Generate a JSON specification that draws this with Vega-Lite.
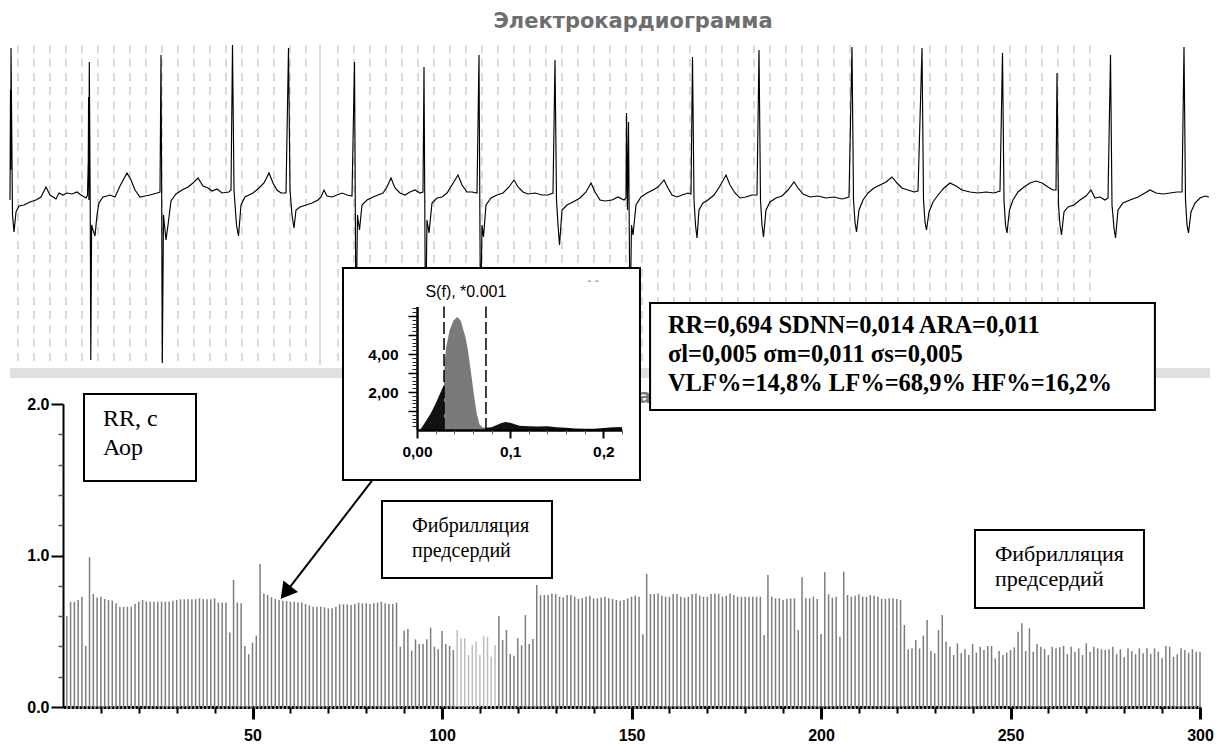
{
"$schema": "https://vega.github.io/schema/vega-lite/v6.json",
"width": 1223, "height": 744, "autosize": "none", "padding": 0,
"background": "white",
"config": {"view": {"stroke": null}},
"datasets": {
"bars": [
{"beat":1,"rr":0.60},{"beat":2,"rr":0.695},{"beat":3,"rr":0.695},{"beat":4,"rr":0.706},{"beat":5,"rr":0.728},{"beat":6,"rr":0.403},{"beat":7,"rr":0.988},{"beat":8,"rr":0.746},{"beat":9,"rr":0.722},{"beat":10,"rr":0.728},
{"beat":11,"rr":0.713},{"beat":12,"rr":0.706},{"beat":13,"rr":0.702},{"beat":14,"rr":0.684},{"beat":15,"rr":0.662},{"beat":16,"rr":0.662},{"beat":17,"rr":0.662},{"beat":18,"rr":0.662},{"beat":19,"rr":0.68},{"beat":20,"rr":0.695},
{"beat":21,"rr":0.706},{"beat":22,"rr":0.695},{"beat":23,"rr":0.695},{"beat":24,"rr":0.695},{"beat":25,"rr":0.695},{"beat":26,"rr":0.695},{"beat":27,"rr":0.695},{"beat":28,"rr":0.695},{"beat":29,"rr":0.702},{"beat":30,"rr":0.706},
{"beat":31,"rr":0.711},{"beat":32,"rr":0.711},{"beat":33,"rr":0.711},{"beat":34,"rr":0.711},{"beat":35,"rr":0.711},{"beat":36,"rr":0.717},{"beat":37,"rr":0.713},{"beat":38,"rr":0.711},{"beat":39,"rr":0.711},{"beat":40,"rr":0.717},
{"beat":41,"rr":0.689},{"beat":42,"rr":0.689},{"beat":43,"rr":0.689},{"beat":44,"rr":0.491},{"beat":45,"rr":0.838},{"beat":46,"rr":0.689},{"beat":47,"rr":0.684},{"beat":48,"rr":0.403},{"beat":49,"rr":0.348},{"beat":50,"rr":0.425},
{"beat":51,"rr":0.471},{"beat":52,"rr":0.944},{"beat":53,"rr":0.75},{"beat":54,"rr":0.739},{"beat":55,"rr":0.724},{"beat":56,"rr":0.713},{"beat":57,"rr":0.706},{"beat":58,"rr":0.702},{"beat":59,"rr":0.70},{"beat":60,"rr":0.695},
{"beat":61,"rr":0.695},{"beat":62,"rr":0.691},{"beat":63,"rr":0.689},{"beat":64,"rr":0.68},{"beat":65,"rr":0.671},{"beat":66,"rr":0.662},{"beat":67,"rr":0.662},{"beat":68,"rr":0.662},{"beat":69,"rr":0.658},{"beat":70,"rr":0.651},
{"beat":71,"rr":0.651},{"beat":72,"rr":0.662},{"beat":73,"rr":0.678},{"beat":74,"rr":0.678},{"beat":75,"rr":0.678},{"beat":76,"rr":0.673},{"beat":77,"rr":0.68},{"beat":78,"rr":0.689},{"beat":79,"rr":0.684},{"beat":80,"rr":0.684},
{"beat":81,"rr":0.68},{"beat":82,"rr":0.684},{"beat":83,"rr":0.689},{"beat":84,"rr":0.695},{"beat":85,"rr":0.684},{"beat":86,"rr":0.68},{"beat":87,"rr":0.68},{"beat":88,"rr":0.689},{"beat":89,"rr":0.398},{"beat":90,"rr":0.504},
{"beat":91,"rr":0.515},{"beat":92,"rr":0.372},{"beat":93,"rr":0.447},{"beat":94,"rr":0.416},{"beat":95,"rr":0.416},{"beat":96,"rr":0.447},{"beat":97,"rr":0.524},{"beat":98,"rr":0.398},{"beat":99,"rr":0.381},{"beat":100,"rr":0.502},
{"beat":101,"rr":0.416},{"beat":102,"rr":0.403},{"beat":103,"rr":0.376},{"beat":104,"rr":0.508},{"beat":105,"rr":0.453},{"beat":106,"rr":0.453},{"beat":107,"rr":0.343},{"beat":108,"rr":0.409},{"beat":109,"rr":0.431},{"beat":110,"rr":0.343},
{"beat":111,"rr":0.469},{"beat":112,"rr":0.464},{"beat":113,"rr":0.332},{"beat":114,"rr":0.409},{"beat":115,"rr":0.601},{"beat":116,"rr":0.442},{"beat":117,"rr":0.508},{"beat":118,"rr":0.35},{"beat":119,"rr":0.339},{"beat":120,"rr":0.453},
{"beat":121,"rr":0.407},{"beat":122,"rr":0.607},{"beat":123,"rr":0.416},{"beat":124,"rr":0.449},{"beat":125,"rr":0.805},{"beat":126,"rr":0.739},{"beat":127,"rr":0.739},{"beat":128,"rr":0.739},{"beat":129,"rr":0.75},{"beat":130,"rr":0.746},
{"beat":131,"rr":0.728},{"beat":132,"rr":0.724},{"beat":133,"rr":0.739},{"beat":134,"rr":0.739},{"beat":135,"rr":0.728},{"beat":136,"rr":0.713},{"beat":137,"rr":0.717},{"beat":138,"rr":0.728},{"beat":139,"rr":0.735},{"beat":140,"rr":0.717},
{"beat":141,"rr":0.717},{"beat":142,"rr":0.722},{"beat":143,"rr":0.728},{"beat":144,"rr":0.717},{"beat":145,"rr":0.713},{"beat":146,"rr":0.706},{"beat":147,"rr":0.702},{"beat":148,"rr":0.706},{"beat":149,"rr":0.717},{"beat":150,"rr":0.728},
{"beat":151,"rr":0.735},{"beat":152,"rr":0.728},{"beat":153,"rr":0.48},{"beat":154,"rr":0.878},{"beat":155,"rr":0.746},{"beat":156,"rr":0.746},{"beat":157,"rr":0.75},{"beat":158,"rr":0.735},{"beat":159,"rr":0.728},{"beat":160,"rr":0.728},
{"beat":161,"rr":0.746},{"beat":162,"rr":0.746},{"beat":163,"rr":0.728},{"beat":164,"rr":0.722},{"beat":165,"rr":0.728},{"beat":166,"rr":0.746},{"beat":167,"rr":0.75},{"beat":168,"rr":0.735},{"beat":169,"rr":0.728},{"beat":170,"rr":0.728},
{"beat":171,"rr":0.746},{"beat":172,"rr":0.75},{"beat":173,"rr":0.746},{"beat":174,"rr":0.728},{"beat":175,"rr":0.735},{"beat":176,"rr":0.75},{"beat":177,"rr":0.739},{"beat":178,"rr":0.728},{"beat":179,"rr":0.728},{"beat":180,"rr":0.728},
{"beat":181,"rr":0.728},{"beat":182,"rr":0.728},{"beat":183,"rr":0.728},{"beat":184,"rr":0.728},{"beat":185,"rr":0.475},{"beat":186,"rr":0.871},{"beat":187,"rr":0.728},{"beat":188,"rr":0.717},{"beat":189,"rr":0.717},{"beat":190,"rr":0.706},
{"beat":191,"rr":0.713},{"beat":192,"rr":0.717},{"beat":193,"rr":0.717},{"beat":194,"rr":0.508},{"beat":195,"rr":0.856},{"beat":196,"rr":0.717},{"beat":197,"rr":0.717},{"beat":198,"rr":0.728},{"beat":199,"rr":0.713},{"beat":200,"rr":0.482},
{"beat":201,"rr":0.889},{"beat":202,"rr":0.744},{"beat":203,"rr":0.722},{"beat":204,"rr":0.728},{"beat":205,"rr":0.464},{"beat":206,"rr":0.893},{"beat":207,"rr":0.739},{"beat":208,"rr":0.728},{"beat":209,"rr":0.735},{"beat":210,"rr":0.744},
{"beat":211,"rr":0.728},{"beat":212,"rr":0.728},{"beat":213,"rr":0.739},{"beat":214,"rr":0.735},{"beat":215,"rr":0.728},{"beat":216,"rr":0.713},{"beat":217,"rr":0.713},{"beat":218,"rr":0.717},{"beat":219,"rr":0.717},{"beat":220,"rr":0.713},
{"beat":221,"rr":0.706},{"beat":222,"rr":0.541},{"beat":223,"rr":0.381},{"beat":224,"rr":0.387},{"beat":225,"rr":0.442},{"beat":226,"rr":0.387},{"beat":227,"rr":0.471},{"beat":228,"rr":0.574},{"beat":229,"rr":0.37},{"beat":230,"rr":0.354},
{"beat":231,"rr":0.508},{"beat":232,"rr":0.607},{"beat":233,"rr":0.431},{"beat":234,"rr":0.398},{"beat":235,"rr":0.343},{"beat":236,"rr":0.42},{"beat":237,"rr":0.354},{"beat":238,"rr":0.381},{"beat":239,"rr":0.343},{"beat":240,"rr":0.416},
{"beat":241,"rr":0.359},{"beat":242,"rr":0.398},{"beat":243,"rr":0.376},{"beat":244,"rr":0.403},{"beat":245,"rr":0.403},{"beat":246,"rr":0.321},{"beat":247,"rr":0.37},{"beat":248,"rr":0.343},{"beat":249,"rr":0.359},{"beat":250,"rr":0.376},
{"beat":251,"rr":0.394},{"beat":252,"rr":0.497},{"beat":253,"rr":0.552},{"beat":254,"rr":0.37},{"beat":255,"rr":0.519},{"beat":256,"rr":0.365},{"beat":257,"rr":0.414},{"beat":258,"rr":0.398},{"beat":259,"rr":0.383},{"beat":260,"rr":0.343},
{"beat":261,"rr":0.398},{"beat":262,"rr":0.387},{"beat":263,"rr":0.394},{"beat":264,"rr":0.403},{"beat":265,"rr":0.348},{"beat":266,"rr":0.398},{"beat":267,"rr":0.365},{"beat":268,"rr":0.387},{"beat":269,"rr":0.343},{"beat":270,"rr":0.42},
{"beat":271,"rr":0.365},{"beat":272,"rr":0.398},{"beat":273,"rr":0.387},{"beat":274,"rr":0.381},{"beat":275,"rr":0.376},{"beat":276,"rr":0.381},{"beat":277,"rr":0.398},{"beat":278,"rr":0.348},{"beat":279,"rr":0.381},{"beat":280,"rr":0.328},
{"beat":281,"rr":0.387},{"beat":282,"rr":0.37},{"beat":283,"rr":0.348},{"beat":284,"rr":0.387},{"beat":285,"rr":0.354},{"beat":286,"rr":0.387},{"beat":287,"rr":0.35},{"beat":288,"rr":0.387},{"beat":289,"rr":0.365},{"beat":290,"rr":0.321},
{"beat":291,"rr":0.403},{"beat":292,"rr":0.398},{"beat":293,"rr":0.332},{"beat":294,"rr":0.348},{"beat":295,"rr":0.387},{"beat":296,"rr":0.376},{"beat":297,"rr":0.359},{"beat":298,"rr":0.381},{"beat":299,"rr":0.365},{"beat":300,"rr":0.365}
],
"ecg": [
{"t":0.000,"v":0.00},{"t":0.005,"v":1.10},{"t":0.008,"v":0.30},{"t":0.010,"v":1.52},{"t":0.025,"v":-0.15},{"t":0.040,"v":-0.32},{"t":0.060,"v":-0.12},{"t":0.090,"v":-0.06},{"t":0.140,"v":-0.05},{"t":0.200,"v":-0.02},{"t":0.260,"v":0.00},{"t":0.310,"v":0.03},{"t":0.360,"v":0.13},{"t":0.400,"v":0.05},{"t":0.430,"v":0.03},{"t":0.460,"v":0.01},{"t":0.490,"v":0.07},{"t":0.530,"v":0.05},{"t":0.570,"v":0.07},{"t":0.620,"v":0.06},{"t":0.670,"v":0.08},{"t":0.710,"v":0.05},{"t":0.760,"v":0.02},{"t":0.775,"v":0.05},
{"t":0.783,"v":0.40},{"t":0.786,"v":1.03},{"t":0.789,"v":0.00},{"t":0.793,"v":1.38},{"t":0.802,"v":0.00},{"t":0.808,"v":-1.60},{"t":0.816,"v":-0.25},{"t":0.830,"v":-0.30},{"t":0.850,"v":-0.36},{"t":0.870,"v":-0.15},{"t":0.890,"v":-0.03},{"t":0.930,"v":0.03},{"t":0.970,"v":0.04},{"t":1.000,"v":0.05},{"t":1.050,"v":0.03},{"t":1.100,"v":0.14},{"t":1.170,"v":0.27},{"t":1.210,"v":0.20},{"t":1.250,"v":0.10},{"t":1.300,"v":0.03},{"t":1.350,"v":0.04},{"t":1.400,"v":0.05},{"t":1.470,"v":0.07},{"t":1.500,"v":0.08},
{"t":1.510,"v":1.45},{"t":1.517,"v":0.00},{"t":1.523,"v":-1.63},{"t":1.535,"v":-0.15},{"t":1.560,"v":-0.40},{"t":1.580,"v":-0.25},{"t":1.610,"v":-0.01},{"t":1.660,"v":0.06},{"t":1.720,"v":0.10},{"t":1.780,"v":0.13},{"t":1.830,"v":0.17},{"t":1.880,"v":0.22},{"t":1.930,"v":0.14},{"t":1.980,"v":0.12},{"t":2.020,"v":0.09},{"t":2.070,"v":0.11},{"t":2.120,"v":0.07},{"t":2.190,"v":0.08},{"t":2.210,"v":0.10},
{"t":2.225,"v":1.55},{"t":2.240,"v":0.10},{"t":2.265,"v":-0.25},{"t":2.285,"v":-0.36},{"t":2.310,"v":-0.05},{"t":2.350,"v":0.03},{"t":2.430,"v":0.07},{"t":2.490,"v":0.12},{"t":2.540,"v":0.17},{"t":2.590,"v":0.27},{"t":2.630,"v":0.17},{"t":2.670,"v":0.10},{"t":2.710,"v":0.07},{"t":2.760,"v":0.07},
{"t":2.785,"v":1.52},{"t":2.800,"v":0.10},{"t":2.820,"v":-0.15},{"t":2.840,"v":-0.28},{"t":2.860,"v":-0.10},{"t":2.900,"v":-0.07},{"t":2.960,"v":-0.05},{"t":3.020,"v":-0.03},{"t":3.080,"v":0.00},{"t":3.110,"v":0.03},{"t":3.140,"v":0.10},{"t":3.170,"v":0.04},{"t":3.220,"v":0.03},{"t":3.270,"v":0.05},{"t":3.320,"v":0.07},{"t":3.370,"v":0.05},{"t":3.420,"v":0.04},
{"t":3.445,"v":1.38},{"t":3.460,"v":-1.30},{"t":3.475,"v":-0.15},{"t":3.495,"v":-0.30},{"t":3.520,"v":-0.05},{"t":3.570,"v":0.00},{"t":3.630,"v":0.03},{"t":3.680,"v":0.05},{"t":3.730,"v":0.07},{"t":3.770,"v":0.13},{"t":3.810,"v":0.22},{"t":3.850,"v":0.12},{"t":3.900,"v":0.07},{"t":3.950,"v":0.05},{"t":4.000,"v":0.08},{"t":4.050,"v":0.10},{"t":4.100,"v":0.07},{"t":4.130,"v":0.08},
{"t":4.140,"v":1.33},{"t":4.155,"v":-1.30},{"t":4.170,"v":-0.20},{"t":4.190,"v":-0.33},{"t":4.220,"v":-0.03},{"t":4.270,"v":0.02},{"t":4.320,"v":0.03},{"t":4.370,"v":0.07},{"t":4.420,"v":0.15},{"t":4.480,"v":0.25},{"t":4.520,"v":0.15},{"t":4.570,"v":0.08},{"t":4.620,"v":0.08},{"t":4.670,"v":0.07},
{"t":4.690,"v":1.45},{"t":4.705,"v":-1.30},{"t":4.720,"v":-0.25},{"t":4.735,"v":-0.37},{"t":4.760,"v":-0.05},{"t":4.810,"v":0.02},{"t":4.870,"v":0.05},{"t":4.930,"v":0.07},{"t":4.990,"v":0.13},{"t":5.040,"v":0.20},{"t":5.080,"v":0.13},{"t":5.130,"v":0.08},{"t":5.180,"v":0.06},{"t":5.250,"v":0.07},{"t":5.320,"v":0.05},{"t":5.380,"v":0.05},{"t":5.430,"v":0.07},
{"t":5.450,"v":1.40},{"t":5.465,"v":0.00},{"t":5.480,"v":-0.25},{"t":5.495,"v":-0.45},{"t":5.520,"v":-0.10},{"t":5.570,"v":-0.05},{"t":5.630,"v":-0.02},{"t":5.700,"v":0.02},{"t":5.760,"v":0.08},{"t":5.810,"v":0.17},{"t":5.850,"v":0.08},{"t":5.900,"v":0.00},{"t":5.950,"v":-0.01},{"t":6.020,"v":0.00},{"t":6.080,"v":0.03},{"t":6.140,"v":0.00},{"t":6.160,"v":0.02},
{"t":6.165,"v":0.87},{"t":6.175,"v":-0.10},{"t":6.185,"v":0.78},{"t":6.200,"v":-1.30},{"t":6.215,"v":-0.25},{"t":6.230,"v":-0.35},{"t":6.260,"v":-0.05},{"t":6.310,"v":0.03},{"t":6.370,"v":0.07},{"t":6.430,"v":0.10},{"t":6.480,"v":0.13},{"t":6.540,"v":0.20},{"t":6.580,"v":0.12},{"t":6.620,"v":0.05},{"t":6.670,"v":0.03},{"t":6.720,"v":0.05},{"t":6.780,"v":0.07},{"t":6.810,"v":0.06},
{"t":6.825,"v":1.43},{"t":6.840,"v":0.00},{"t":6.855,"v":-0.25},{"t":6.870,"v":-0.38},{"t":6.890,"v":-0.10},{"t":6.930,"v":-0.03},{"t":6.980,"v":0.00},{"t":7.040,"v":0.05},{"t":7.100,"v":0.14},{"t":7.160,"v":0.25},{"t":7.200,"v":0.15},{"t":7.250,"v":0.07},{"t":7.300,"v":0.02},{"t":7.360,"v":0.03},{"t":7.420,"v":0.05},{"t":7.470,"v":0.05},
{"t":7.490,"v":1.50},{"t":7.505,"v":0.00},{"t":7.520,"v":-0.25},{"t":7.535,"v":-0.37},{"t":7.560,"v":-0.10},{"t":7.600,"v":-0.02},{"t":7.660,"v":0.02},{"t":7.720,"v":0.04},{"t":7.780,"v":0.10},{"t":7.840,"v":0.18},{"t":7.880,"v":0.12},{"t":7.930,"v":0.06},{"t":8.000,"v":0.03},{"t":8.080,"v":0.04},{"t":8.160,"v":0.02},{"t":8.240,"v":0.03},{"t":8.320,"v":0.01},{"t":8.390,"v":0.03},
{"t":8.420,"v":1.53},{"t":8.435,"v":0.00},{"t":8.450,"v":-0.22},{"t":8.465,"v":-0.32},{"t":8.490,"v":-0.10},{"t":8.530,"v":0.00},{"t":8.580,"v":0.07},{"t":8.640,"v":0.12},{"t":8.700,"v":0.15},{"t":8.760,"v":0.18},{"t":8.820,"v":0.23},{"t":8.870,"v":0.17},{"t":8.920,"v":0.12},{"t":8.980,"v":0.10},{"t":9.040,"v":0.08},{"t":9.080,"v":0.09},
{"t":9.120,"v":1.52},{"t":9.135,"v":0.00},{"t":9.150,"v":-0.22},{"t":9.165,"v":-0.30},{"t":9.190,"v":-0.12},{"t":9.230,"v":-0.02},{"t":9.280,"v":0.05},{"t":9.340,"v":0.12},{"t":9.400,"v":0.17},{"t":9.460,"v":0.14},{"t":9.520,"v":0.10},{"t":9.600,"v":0.08},{"t":9.680,"v":0.07},{"t":9.760,"v":0.08},{"t":9.840,"v":0.07},{"t":9.900,"v":0.09},
{"t":9.925,"v":1.47},{"t":9.940,"v":0.00},{"t":9.955,"v":-0.25},{"t":9.970,"v":-0.33},{"t":9.995,"v":-0.10},{"t":10.030,"v":0.00},{"t":10.080,"v":0.08},{"t":10.140,"v":0.13},{"t":10.200,"v":0.17},{"t":10.260,"v":0.19},{"t":10.320,"v":0.17},{"t":10.380,"v":0.13},{"t":10.430,"v":0.10},{"t":10.460,"v":0.10},
{"t":10.470,"v":1.27},{"t":10.485,"v":-0.05},{"t":10.500,"v":-0.25},{"t":10.515,"v":-0.35},{"t":10.540,"v":-0.12},{"t":10.580,"v":-0.07},{"t":10.640,"v":-0.05},{"t":10.700,"v":0.00},{"t":10.760,"v":0.04},{"t":10.810,"v":0.10},{"t":10.850,"v":0.02},{"t":10.900,"v":0.03},{"t":10.950,"v":0.00},{"t":10.980,"v":0.02},
{"t":11.005,"v":1.45},{"t":11.020,"v":-0.05},{"t":11.040,"v":-0.28},{"t":11.055,"v":-0.38},{"t":11.080,"v":-0.10},{"t":11.130,"v":-0.03},{"t":11.200,"v":0.00},{"t":11.280,"v":0.03},{"t":11.350,"v":0.07},{"t":11.400,"v":0.10},{"t":11.460,"v":0.07},{"t":11.530,"v":0.06},{"t":11.600,"v":0.07},{"t":11.670,"v":0.08},{"t":11.720,"v":0.08},
{"t":11.740,"v":1.53},{"t":11.755,"v":0.00},{"t":11.770,"v":-0.25},{"t":11.785,"v":-0.33},{"t":11.810,"v":-0.12},{"t":11.850,"v":-0.03},{"t":11.900,"v":0.02},{"t":11.950,"v":0.04},{"t":11.990,"v":0.03}
],
"grid": [
{"t":0.08},{"t":0.24},{"t":0.40},{"t":0.56},{"t":0.72},{"t":0.88},{"t":1.04},{"t":1.20},{"t":1.36},{"t":1.52},{"t":1.68},{"t":1.84},{"t":2.00},{"t":2.16},{"t":2.32},{"t":2.48},{"t":2.64},{"t":2.80},{"t":2.96},{"t":3.28},{"t":3.44},{"t":3.60},{"t":3.76},{"t":3.92},{"t":4.08},{"t":4.24},{"t":4.40},{"t":4.56},{"t":4.72},{"t":4.88},{"t":5.04},{"t":5.20},{"t":5.36},{"t":5.52},{"t":5.68},{"t":5.84},{"t":6.00},{"t":6.16},{"t":6.32},{"t":6.48},{"t":6.64},{"t":6.80},{"t":6.96},{"t":7.12},{"t":7.28},{"t":7.44},{"t":7.60},{"t":7.76},{"t":7.92},{"t":8.08},{"t":8.24},{"t":8.40},{"t":8.56},{"t":8.72},{"t":8.88},{"t":9.04},{"t":9.20},{"t":9.36},{"t":9.52},{"t":9.68},{"t":9.84},{"t":10.00},{"t":10.16},{"t":10.32},{"t":10.48},{"t":10.64},{"t":10.80}
],
"gridMajor": [{"t":3.10}],
"spectrum": [
{"band":"VLF","f":0.003,"p":0},{"band":"VLF","f":0.006,"p":0.2},{"band":"VLF","f":0.010,"p":0.5},{"band":"VLF","f":0.015,"p":0.9},{"band":"VLF","f":0.020,"p":1.4},{"band":"VLF","f":0.025,"p":1.95},{"band":"VLF","f":0.029,"p":2.4},
{"band":"LF","f":0.029,"p":2.4},{"band":"LF","f":0.0295,"p":3.6},{"band":"LF","f":0.0315,"p":4.4},{"band":"LF","f":0.035,"p":5.25},{"band":"LF","f":0.039,"p":5.75},{"band":"LF","f":0.0433,"p":5.95},{"band":"LF","f":0.047,"p":5.75},{"band":"LF","f":0.049,"p":5.4},{"band":"LF","f":0.052,"p":4.9},{"band":"LF","f":0.0547,"p":4.2},{"band":"LF","f":0.058,"p":3.0},{"band":"LF","f":0.061,"p":1.9},{"band":"LF","f":0.064,"p":0.9},{"band":"LF","f":0.067,"p":0.3},{"band":"LF","f":0.070,"p":0.15},{"band":"LF","f":0.074,"p":0.12},
{"band":"HF","f":0.074,"p":0.12},{"band":"HF","f":0.080,"p":0.15},{"band":"HF","f":0.085,"p":0.25},{"band":"HF","f":0.090,"p":0.35},{"band":"HF","f":0.095,"p":0.42},{"band":"HF","f":0.100,"p":0.38},{"band":"HF","f":0.105,"p":0.30},{"band":"HF","f":0.110,"p":0.22},{"band":"HF","f":0.120,"p":0.20},{"band":"HF","f":0.130,"p":0.18},{"band":"HF","f":0.140,"p":0.20},{"band":"HF","f":0.150,"p":0.15},{"band":"HF","f":0.160,"p":0.12},{"band":"HF","f":0.170,"p":0.08},{"band":"HF","f":0.180,"p":0.06},{"band":"HF","f":0.190,"p":0.07},{"band":"HF","f":0.200,"p":0.10},{"band":"HF","f":0.210,"p":0.14},{"band":"HF","f":0.220,"p":0.16}
]
},
"layer": [
{"data":{"name":"grid"},"mark":{"type":"rule","stroke":"#b3b3b3","strokeWidth":1,"strokeDash":[8,6]},
 "encoding":{"x":{"field":"t","type":"quantitative","scale":{"domain":[0,12],"range":[10,1210],"nice":false,"zero":false},"axis":null},
  "y":{"datum":1.55,"type":"quantitative","scale":{"domain":[-1.7,1.6],"range":[370,40],"nice":false,"zero":false},"axis":null},"y2":{"datum":-1.65}}},
{"data":{"name":"gridMajor"},"mark":{"type":"rule","stroke":"#b8b8b8","strokeWidth":1},
 "encoding":{"x":{"field":"t","type":"quantitative","scale":{"domain":[0,12],"range":[10,1210],"nice":false,"zero":false},"axis":null},
  "y":{"datum":1.55,"type":"quantitative","scale":{"domain":[-1.7,1.6],"range":[370,40],"nice":false,"zero":false},"axis":null},"y2":{"datum":-1.65}}},
{"data":{"values":[{}]},"mark":{"type":"rect","fill":"#e0e0e0"},
 "encoding":{"x":{"datum":0,"type":"quantitative","scale":{"domain":[0,12],"range":[10,1210],"nice":false,"zero":false},"axis":null},"x2":{"datum":12},
  "y":{"datum":-1.68,"type":"quantitative","scale":{"domain":[-1.7,1.6],"range":[370,40],"nice":false,"zero":false},"axis":null},"y2":{"datum":-1.78}}},
{"data":{"name":"ecg"},"mark":{"type":"line","stroke":"black","strokeWidth":1.15,"interpolate":"linear"},
 "encoding":{"x":{"field":"t","type":"quantitative","scale":{"domain":[0,12],"range":[10,1210],"nice":false,"zero":false},"axis":null},
  "y":{"field":"v","type":"quantitative","scale":{"domain":[-1.7,1.6],"range":[370,40],"nice":false,"zero":false},"axis":null}}},
{"data":{"values":[{"t":6.23,"v":1.78,"label":"Электрокардиограмма"}]},"mark":{"type":"text","font":"DejaVu Sans","fontWeight":"bold","fontSize":21,"fill":"#6e6e6e","align":"center","baseline":"middle"},
 "encoding":{"x":{"field":"t","type":"quantitative","scale":{"domain":[0,12],"range":[10,1210],"nice":false,"zero":false},"axis":null},
  "y":{"field":"v","type":"quantitative","scale":{"domain":[-1.7,1.6],"range":[370,40],"nice":false,"zero":false},"axis":null},"text":{"field":"label"}}},
{"data":{"name":"bars"},"mark":{"type":"rule","strokeWidth":1.5},
 "encoding":{"x":{"field":"beat","type":"quantitative","scale":{"domain":[0,300],"range":[63,1200],"nice":false,"zero":false},
   "axis":{"orient":"bottom","offset":-37,"values":[50,100,150,200,250,300],"format":"d","tickSize":12,"tickWidth":3,"tickColor":"black","domainColor":"black","domainWidth":3,"domainDash":[3,1],"labelFont":"Liberation Sans","labelFontWeight":"bold","labelFontSize":16,"labelColor":"black","labelPadding":8,"labelFlush":false,"labelOverlap":false,"grid":false,"title":null}},
  "y":{"field":"rr","type":"quantitative","scale":{"domain":[0,2],"range":[707,404],"nice":false,"zero":false},
   "axis":{"orient":"left","offset":-63,"values":[0,1,2],"format":".1f","tickSize":12,"tickWidth":2,"tickColor":"black","domainColor":"black","domainWidth":2,"labelFont":"Liberation Sans","labelFontWeight":"bold","labelFontSize":16,"labelColor":"black","labelPadding":2,"labelFlush":false,"labelOverlap":false,"grid":false,"title":null}},
  "y2":{"datum":0},
  "color":{"condition":{"test":"datum.beat >= 104 && datum.beat <= 114","value":"#bdbdbd"},"value":"#7d7d7d"}}},
{"data":{"name":"bars"},"mark":{"type":"point","opacity":0},
 "encoding":{"x":{"field":"beat","type":"quantitative","scale":{"domain":[0,300],"range":[63,1200],"nice":false,"zero":false},
   "axis":{"orient":"bottom","offset":-37,"values":[10,20,30,40,60,70,80,90,110,120,130,140,160,170,180,190,210,220,230,240,260,270,280,290],"tickSize":6,"tickWidth":2,"tickColor":"black","domain":false,"labels":false,"grid":false,"title":null}},
  "y":{"field":"rr","type":"quantitative","scale":{"domain":[0,2],"range":[707,404],"nice":false,"zero":false},
   "axis":{"orient":"left","offset":-63,"values":[0.2,0.4,0.6,0.8,1.2,1.4,1.6,1.8],"tickSize":5,"tickWidth":1.5,"tickColor":"#555","domain":false,"labels":false,"grid":false,"title":null}}}},
{"data":{"values":[{"x":151.7,"y":2.007,"label":"а"}]},"mark":{"type":"text","font":"DejaVu Sans","fontWeight":"bold","fontSize":20,"fill":"#777","align":"left","baseline":"alphabetic"},
 "encoding":{"x":{"field":"x","type":"quantitative","scale":{"domain":[0,300],"range":[63,1200],"nice":false,"zero":false},"axis":null},
  "y":{"field":"y","type":"quantitative","scale":{"domain":[0,2],"range":[707,404],"nice":false,"zero":false},"axis":null},"text":{"field":"label"}}},
{"data":{"values":[{"x0":154.9,"x1":288.1,"y0":1.96,"y1":2.667},{"x0":5.54,"x1":35.09,"y0":1.492,"y1":2.066},{"x0":84.17,"x1":129.02,"y0":0.851,"y1":1.36},{"x0":240.63,"x1":285.22,"y0":0.653,"y1":1.168}]},
 "mark":{"type":"rect","fill":"white","stroke":"black","strokeWidth":2},
 "encoding":{"x":{"field":"x0","type":"quantitative","scale":{"domain":[0,300],"range":[63,1200],"nice":false,"zero":false},"axis":null},"x2":{"field":"x1"},
  "y":{"field":"y0","type":"quantitative","scale":{"domain":[0,2],"range":[707,404],"nice":false,"zero":false},"axis":null},"y2":{"field":"y1"}}},
{"data":{"values":[{"x":159.6,"y":2.469,"label":"RR=0,694 SDNN=0,014 ARA=0,011"},{"x":159.6,"y":2.277,"label":"σl=0,005 σm=0,011 σs=0,005"},{"x":159.6,"y":2.086,"label":"VLF%=14,8% LF%=68,9% HF%=16,2%"}]},
 "mark":{"type":"text","font":"Liberation Serif","fontWeight":"bold","fontSize":24.5,"fill":"black","align":"left","baseline":"alphabetic"},
 "encoding":{"x":{"field":"x","type":"quantitative","scale":{"domain":[0,300],"range":[63,1200],"nice":false,"zero":false},"axis":null},
  "y":{"field":"y","type":"quantitative","scale":{"domain":[0,2],"range":[707,404],"nice":false,"zero":false},"axis":null},"text":{"field":"label"}}},
{"data":{"values":[{"x":10.55,"y":1.855,"label":"RR, с"},{"x":10.55,"y":1.663,"label":"Аор"}]},
 "mark":{"type":"text","font":"Liberation Serif","fontSize":24,"fill":"black","align":"left","baseline":"alphabetic"},
 "encoding":{"x":{"field":"x","type":"quantitative","scale":{"domain":[0,300],"range":[63,1200],"nice":false,"zero":false},"axis":null},
  "y":{"field":"y","type":"quantitative","scale":{"domain":[0,2],"range":[707,404],"nice":false,"zero":false},"axis":null},"text":{"field":"label"}}},
{"data":{"values":[{"x":92.08,"y":1.155,"label":"Фибрилляция"},{"x":92.08,"y":0.99,"label":"предсердий"}]},
 "mark":{"type":"text","font":"Liberation Serif","fontSize":20,"fill":"black","align":"left","baseline":"alphabetic"},
 "encoding":{"x":{"field":"x","type":"quantitative","scale":{"domain":[0,300],"range":[63,1200],"nice":false,"zero":false},"axis":null},
  "y":{"field":"y","type":"quantitative","scale":{"domain":[0,2],"range":[707,404],"nice":false,"zero":false},"axis":null},"text":{"field":"label"}}},
{"data":{"values":[{"x":245.9,"y":0.964,"label":"Фибрилляция"},{"x":245.9,"y":0.799,"label":"предсердий"}]},
 "mark":{"type":"text","font":"Liberation Serif","fontSize":22,"fill":"black","align":"left","baseline":"alphabetic"},
 "encoding":{"x":{"field":"x","type":"quantitative","scale":{"domain":[0,300],"range":[63,1200],"nice":false,"zero":false},"axis":null},
  "y":{"field":"y","type":"quantitative","scale":{"domain":[0,2],"range":[707,404],"nice":false,"zero":false},"axis":null},"text":{"field":"label"}}},
{"data":{"values":[{"x0":81.5,"y0":1.492,"x1":58.9,"y1":0.76}]},"mark":{"type":"rule","stroke":"black","strokeWidth":2},
 "encoding":{"x":{"field":"x0","type":"quantitative","scale":{"domain":[0,300],"range":[63,1200],"nice":false,"zero":false},"axis":null},"x2":{"field":"x1"},
  "y":{"field":"y0","type":"quantitative","scale":{"domain":[0,2],"range":[707,404],"nice":false,"zero":false},"axis":null},"y2":{"field":"y1"}}},
{"data":{"values":[{"x":59.2,"y":0.769}]},"mark":{"type":"point","shape":"triangle","filled":true,"fill":"black","stroke":"black","size":230,"angle":218,"opacity":1},
 "encoding":{"x":{"field":"x","type":"quantitative","scale":{"domain":[0,300],"range":[63,1200],"nice":false,"zero":false},"axis":null},
  "y":{"field":"y","type":"quantitative","scale":{"domain":[0,2],"range":[707,404],"nice":false,"zero":false},"axis":null}}},
{"data":{"values":[{"x0":73.88,"x1":152.24,"y0":1.498,"y1":2.898}]},"mark":{"type":"rect","fill":"white","stroke":"black","strokeWidth":2},
 "encoding":{"x":{"field":"x0","type":"quantitative","scale":{"domain":[0,300],"range":[63,1200],"nice":false,"zero":false},"axis":null},"x2":{"field":"x1"},
  "y":{"field":"y0","type":"quantitative","scale":{"domain":[0,2],"range":[707,404],"nice":false,"zero":false},"axis":null},"y2":{"field":"y1"}}},
{"data":{"name":"spectrum"},"mark":{"type":"area","opacity":1,"interpolate":"linear"},
 "encoding":{"x":{"field":"f","type":"quantitative","scale":{"domain":[0,0.22],"range":[417,622],"nice":false,"zero":false},
   "axis":{"orient":"bottom","offset":-314,"zindex":2,"values":[0,0.1,0.2],"labelExpr":"datum.value == 0 ? '0,00' : replace(format(datum.value, '.1f'), '.', ',')","tickSize":8,"tickWidth":2,"tickColor":"black","domainColor":"black","domainWidth":2.5,"labelFont":"Liberation Sans","labelFontWeight":"bold","labelFontSize":15.5,"labelColor":"black","labelPadding":6,"labelFlush":false,"labelOverlap":false,"grid":false,"title":null}},
  "y":{"field":"p","type":"quantitative","stack":null,"scale":{"domain":[0,6.5],"range":[430,306.5],"nice":false,"zero":false},
   "axis":{"orient":"left","offset":-417,"zindex":2,"values":[1,2,3,4,5,6],"labelExpr":"datum.value == 2 ? '2,00' : datum.value == 4 ? '4,00' : ''","tickSize":9,"tickWidth":1.5,"tickColor":"black","domainColor":"black","domainWidth":2.5,"labelFont":"Liberation Sans","labelFontWeight":"bold","labelFontSize":15.5,"labelColor":"black","labelPadding":10,"labelFlush":false,"labelOverlap":false,"grid":false,"title":null}},
  "y2":{"datum":0},
  "color":{"field":"band","type":"nominal","scale":{"domain":["VLF","LF","HF"],"range":["#111111","#7a7a7a","#111111"]},"legend":null}}},
{"data":{"values":[{"f":0.029},{"f":0.074}]},"mark":{"type":"rule","stroke":"black","strokeWidth":1.5,"strokeDash":[12,4]},
 "encoding":{"x":{"field":"f","type":"quantitative","scale":{"domain":[0,0.22],"range":[417,622],"nice":false,"zero":false},"axis":null},
  "y":{"datum":0,"type":"quantitative","scale":{"domain":[0,6.5],"range":[430,306.5],"nice":false,"zero":false},"axis":null},"y2":{"datum":6.5}}},
{"data":{"name":"spectrum"},"mark":{"type":"point","opacity":0},
 "encoding":{"x":{"field":"f","type":"quantitative","scale":{"domain":[0,0.22],"range":[417,622],"nice":false,"zero":false},
   "axis":{"orient":"bottom","offset":-314,"zindex":2,"values":[0.02,0.04,0.06,0.08,0.12,0.14,0.16,0.18,0.22],"tickSize":4,"tickWidth":1,"tickColor":"#666","domain":false,"labels":false,"grid":false,"title":null}},
  "y":{"field":"p","type":"quantitative","scale":{"domain":[0,6.5],"range":[430,306.5],"nice":false,"zero":false},
   "axis":{"orient":"left","offset":-417,"zindex":2,"values":[0.2,0.4,0.6,0.8,1.2,1.4,1.6,1.8,2.2,2.4,2.6,2.8,3.2,3.4,3.6,3.8,4.2,4.4,4.6,4.8,5.2,5.4,5.6,5.8,6.2,6.4],"tickSize":5,"tickWidth":1,"tickColor":"#222","domain":false,"labels":false,"grid":false,"title":null}}}},
{"data":{"values":[{"f":0.0525,"p":7.26,"label":"S(f), *0.001"}]},"mark":{"type":"text","font":"Liberation Sans","fontSize":16,"fill":"black","align":"center","baseline":"middle"},
 "encoding":{"x":{"field":"f","type":"quantitative","scale":{"domain":[0,0.22],"range":[417,622],"nice":false,"zero":false},"axis":null},
  "y":{"field":"p","type":"quantitative","scale":{"domain":[0,6.5],"range":[430,306.5],"nice":false,"zero":false},"axis":null},"text":{"field":"label"}}},
{"data":{"values":[{"f":0.189,"p":7.84,"label":"- -"}]},"mark":{"type":"text","font":"Liberation Sans","fontWeight":"bold","fontSize":12,"fill":"#aaaaaa","align":"center","baseline":"middle"},
 "encoding":{"x":{"field":"f","type":"quantitative","scale":{"domain":[0,0.22],"range":[417,622],"nice":false,"zero":false},"axis":null},
  "y":{"field":"p","type":"quantitative","scale":{"domain":[0,6.5],"range":[430,306.5],"nice":false,"zero":false},"axis":null},"text":{"field":"label"}}}
],
"resolve": {"scale": {"x":"independent","y":"independent","color":"independent"}}
}
